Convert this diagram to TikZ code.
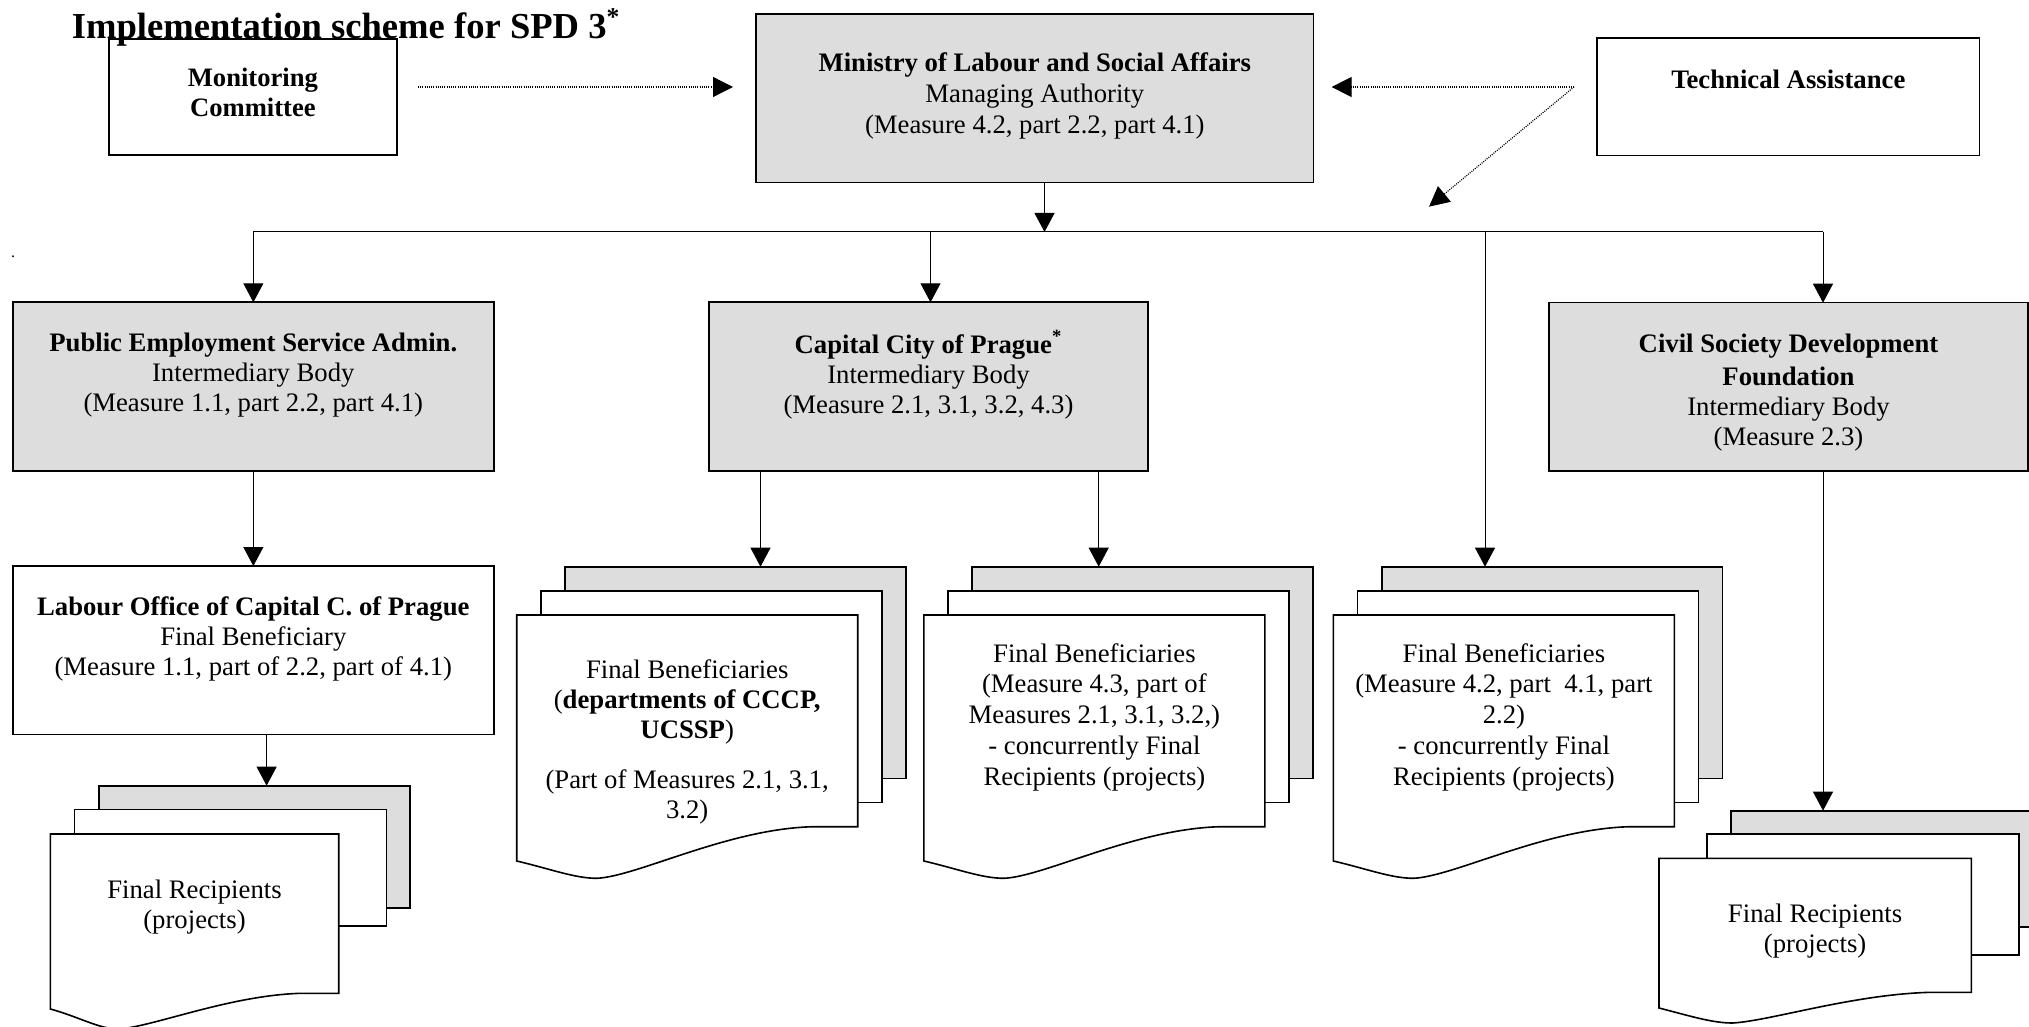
\documentclass[tikz,border=0pt]{standalone}
\usepackage{fontspec}
\setmainfont{Liberation Serif}
\usetikzlibrary{arrows.meta,fit,calc}
\definecolor{boxgray}{RGB}{221,221,221}
\newcommand\nfont{\fontsize{13.35pt}{15pt}\selectfont}
\newcommand\mfont{\fontsize{13.35pt}{15.5pt}\selectfont}
\newcommand\wfont{\fontsize{13.35pt}{15.4pt}\selectfont}
\newcommand\frontpage[6]{%
  \pgfmathsetmacro\fpW{#2-#1}%
  \pgfmathsetmacro\fpxT{#1+0.235*\fpW}%
  \pgfmathsetmacro\fpa{#1+0.10*\fpW}%
  \pgfmathsetmacro\fpb{#1+0.17*\fpW}%
  \pgfmathsetmacro\fpc{\fpxT+0.12*\fpW}%
  \pgfmathsetmacro\fpd{#1+0.62*\fpW}%
  \pgfmathsetmacro\fpe{#1+0.87*\fpW}%
  \draw[line width=0.8pt, fill=white] (#1,#3) -- (#2,#3) -- (#2,#4) -- (\fpe,#4)
    .. controls (\fpd,#4+2) and (\fpc,#6-2) .. (\fpxT,#6)
    .. controls (\fpb,#6) and (\fpa,#5+8) .. (#1,#5) -- cycle;
}
\begin{document}
\begin{tikzpicture}[x=0.5pt,y=-0.5pt,
  box/.style={draw=black, line width=0.8pt, inner sep=0pt, outer sep=0pt},
  gbox/.style={box, fill=boxgray},
  wbox/.style={box, fill=white},
  txt/.style={align=center, inner sep=0pt, anchor=north, font=\nfont},
  conn/.style={line width=0.5pt, -{Triangle[length=9.5pt,width=10pt]}},
  plainline/.style={line width=0.5pt},
  dotconn/.style={line width=0.6pt, dash pattern=on 0.5pt off 0.6pt, -{Triangle[length=10pt,width=10pt]}}
  ]
\useasboundingbox (0,0) rectangle (2029,1027);
\clip (0,0) rectangle (2029,1027);

% top row
\node[wbox, fit={(109,39) (396.7,155.3)}] (mc) {};
\node[gbox, fit={(756,14) (1313.6,182.7)}] (mla) {};
\node[wbox, fit={(1596.7,38.3) (1979.3,155.7)}] (ta) {};

% intermediary bodies
\node[gbox, fit={(12.7,302.3) (494,471)}] (pes) {};
\node[gbox, fit={(709.2,302.3) (1147.7,471)}] (cap) {};
\node[gbox, fit={(1549,302.7) (2028,470.7)}] (csdf) {};
\node[wbox, fit={(12.7,566) (494,734.3)}] (lab) {};

% stack 1 (Final Recipients left)
\node[gbox, fit={(98.9,785.7) (410,907.7)}] (sr1b) {};
\node[wbox, fit={(74.6,809.3) (386.5,925.7)}] (sr1m) {};
\frontpage{50.4}{338.7}{834}{993.3}{1009}{1029}

% stack 2
\node[gbox, fit={(565,566.7) (905.7,778.3)}] (fb1b) {};
\node[wbox, fit={(540.7,591) (881.7,802.3)}] (fb1m) {};
\frontpage{516.7}{857.7}{615}{826.7}{861}{878.3}

% stack 3
\node[gbox, fit={(972.2,566.7) (1312.9,778.3)}] (fb2b) {};
\node[wbox, fit={(947.9,591) (1288.9,802.3)}] (fb2m) {};
\frontpage{923.9}{1264.9}{615}{826.7}{861}{878.3}

% stack 4
\node[gbox, fit={(1381.7,566.7) (1722.4,778.3)}] (fb3b) {};
\node[wbox, fit={(1357.4,591) (1698.4,802.3)}] (fb3m) {};
\frontpage{1333.4}{1674.4}{615}{826.7}{861}{878.3}

% stack 5 (Final Recipients right)
\node[gbox, fit={(1730.7,810.7) (2043,926.7)}] (sr5b) {};
\node[wbox, fit={(1706.7,834) (2019,955)}] (sr5m) {};
\frontpage{1659}{1971.3}{858.3}{992.3}{1008}{1023}

% texts
\node[anchor=base west, inner sep=0pt, font=\fontsize{18.3pt}{22pt}\selectfont\bfseries] (title) at (71.5,38.5) {Implementation scheme for SPD 3\textsuperscript{*}};
\node[txt, font=\fontsize{13.3pt}{15pt}\selectfont\bfseries] (mc-t) at (252.9,65) {\strut Monitoring\\Committee};
\node[txt, font=\mfont] (mla-t) at (1034.8,49.3) {\strut\textbf{Ministry of Labour and Social Affairs}\\Managing Authority\\(Measure 4.2, part 2.2, part 4.1)};
\node[anchor=base, inner sep=0pt, font=\nfont\bfseries] (ta-t) at (1788.3,88.3) {Technical Assistance};
\node[txt] (pes-t) at (253.3,330) {\strut\textbf{Public Employment Service Admin.}\\Intermediary Body\\(Measure 1.1, part 2.2, part 4.1)};
\node[txt] (cap-t) at (928.5,330) {\strut\textbf{Capital City of Prague\textsuperscript{*}}\\Intermediary Body\\(Measure 2.1, 3.1, 3.2, 4.3)};
\node[txt] (csdf-t) at (1788.5,330.7) {\strut\textbf{Civil Society Development}\\[1.5pt]\textbf{Foundation}\\Intermediary Body\\(Measure 2.3)};
\node[txt] (lab-t) at (253.3,593.7) {\strut\textbf{Labour Office of Capital C. of Prague}\\Final Beneficiary\\(Measure 1.1, part of 2.2, part of 4.1)};
\node[txt] (fb1-t) at (687.2,657.3) {\strut Final Beneficiaries\\(\textbf{departments of CCCP,}\\\textbf{UCSSP})\\[9.7pt](Part of Measures 2.1, 3.1,\\3.2)};
\node[txt, font=\wfont] (fb2-t) at (1094.4,640.1) {\strut Final Beneficiaries\\(Measure 4.3, part of\\Measures 2.1, 3.1, 3.2,)\\- concurrently Final\\Recipients (projects)};
\node[txt, font=\wfont] (fb3-t) at (1503.9,640.1) {\strut Final Beneficiaries\\(Measure 4.2, part\ \ 4.1, part\\2.2)\\- concurrently Final\\Recipients (projects)};
\node[txt] (sr1-t) at (194.5,876.7) {\strut Final Recipients\\(projects)};
\node[txt] (sr5-t) at (1815.1,900.7) {\strut Final Recipients\\(projects)};
\node[anchor=base, inner sep=0pt, font=\fontsize{8pt}{8pt}\selectfont] (stray) at (13,258) {.};

% connector helper coordinates
\coordinate (br) at (1044.5,232);
\coordinate (xcap) at (930.5,0);
\coordinate (xfb3) at (1485,0);
\coordinate (xcs) at (1823,0);
\coordinate (xl) at (266.6,0);
\coordinate (xf1) at (760.5,0);
\coordinate (xf2) at (1098.7,0);
\coordinate (ya) at (0,87);
\coordinate (tas) at ($(ta.west |- ya)+(-22.7,0)$);
\coordinate (tad) at (1429,206.7);

% solid connectors
\draw[conn] (mla.south -| br) -- (br);
\draw[plainline] (pes.north |- br) -- (xcs |- br);
\draw[conn] (pes.north |- br) -- (pes.north);
\draw[conn] (xcap |- br) -- (cap.north -| xcap);
\draw[conn] (xfb3 |- br) -- (fb3b.north -| xfb3);
\draw[conn] (xcs |- br) -- (csdf.north -| xcs);
\draw[conn] (pes.south) -- (lab.north);
\draw[conn] (lab.south -| xl) -- (sr1b.north -| xl);
\draw[conn] (cap.south -| xf1) -- (fb1b.north -| xf1);
\draw[conn] (cap.south -| xf2) -- (fb2b.north -| xf2);
\draw[conn] (csdf.south -| xcs) -- (sr5b.north -| xcs);

% dotted connectors
\draw[dotconn, shorten <=10.6pt, shorten >=11.5pt] (mc.east |- ya) -- (mla.west |- ya);
\draw[dotconn, shorten >=9pt] (tas) -- (mla.east |- ya);
\draw[dotconn] (tas) -- (tad);
\end{tikzpicture}
\end{document}
